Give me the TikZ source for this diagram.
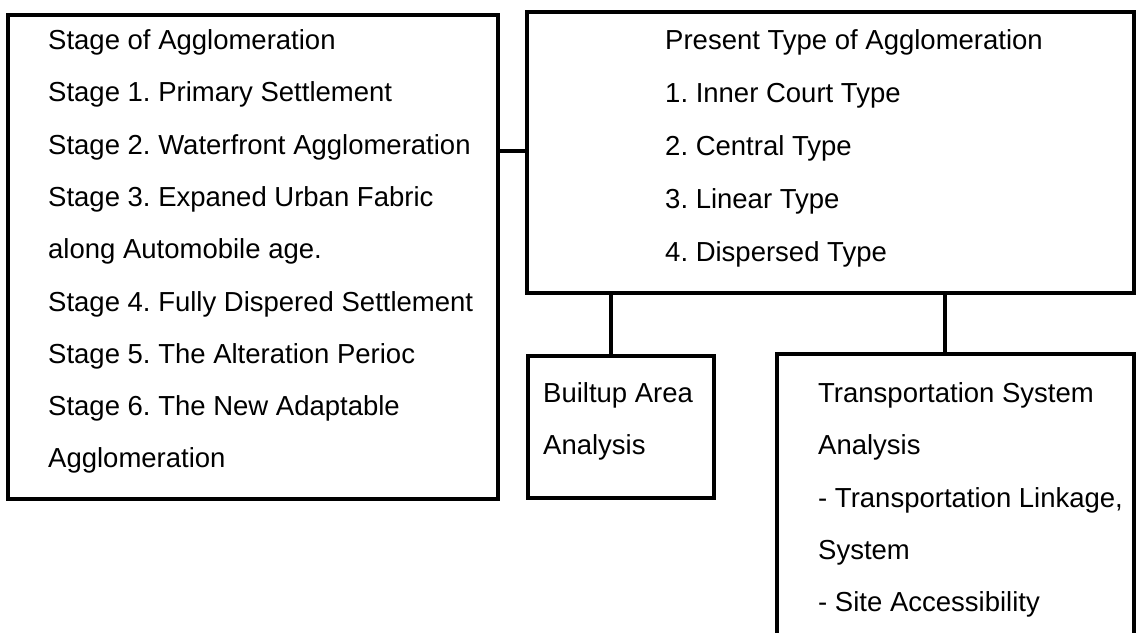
\documentclass[tikz,border=0pt]{standalone}
\usepackage{fontspec}
\setmainfont{Liberation Sans}
\frenchspacing
\tikzset{
  box/.style={draw, rectangle, line width=3.4pt, inner sep=0pt, outer sep=0pt},
  txt/.style={anchor=west, inner sep=0pt, text height=0.72em, text depth=0pt,
              font=\fontsize{27.5}{32}\selectfont},
  link/.style={line width=3.2pt}
}
\begin{document}
\begin{tikzpicture}[x=1pt, y=-1pt]
\clip (0,0) rectangle (1139,632);
\fill[white] (0,0) rectangle (1139,632);
% boxes
\node[box, minimum width=490pt, minimum height=484pt] (stages) at (253,257) {};
\node[box, minimum width=607pt, minimum height=281pt] (present) at (830.5,152.5) {};
\node[box, minimum width=186pt, minimum height=142pt] (builtup) at (621,427) {};
\node[box, minimum width=357pt, minimum height=326pt] (transport) at (955.5,517) {};
% left texts
\node[txt] (s0) at (48,46)  {Stage of Agglomeration};
\node[txt] (s1) at (48,98)  {Stage 1. Primary Settlement};
\node[txt] (s2) at (48,151) {Stage 2. Waterfront Agglomeration};
\node[txt] (s3) at (48,203) {Stage 3. Expaned Urban Fabric};
\node[txt] (s4) at (48,255) {along Automobile age.};
\node[txt] (s5) at (48,308) {Stage 4. Fully Dispered Settlement};
\node[txt] (s6) at (48,360) {Stage 5. The Alteration Perioc};
\node[txt] (s7) at (48,412) {Stage 6. The New Adaptable};
\node[txt] (s8) at (48,464) {Agglomeration};
% present texts
\node[txt] (p0) at (665,46)  {Present Type of Agglomeration};
\node[txt] (p1) at (665,99)  {1. Inner Court Type};
\node[txt] (p2) at (665,152) {2. Central Type};
\node[txt] (p3) at (665,205) {3. Linear Type};
\node[txt] (p4) at (665,258) {4. Dispersed Type};
% builtup texts
\node[txt] (b0) at (543,399) {Builtup Area};
\node[txt] (b1) at (543,451) {Analysis};
% transport texts
\node[txt] (t0) at (818,399) {Transportation System};
\node[txt] (t1) at (818,451) {Analysis};
\node[txt] (t2) at (818,504) {- Transportation Linkage,};
\node[txt] (t3) at (818,556) {System};
\node[txt] (t4) at (818,608) {- Site Accessibility};
% connectors
\coordinate (h1) at (0,151);
\coordinate (v1) at (611,0);
\coordinate (v2) at (945,0);
\draw[link] (stages.east |- h1) -- (present.west |- h1);
\draw[link] (present.south -| v1) -- (builtup.north -| v1);
\draw[link] (present.south -| v2) -- (transport.north -| v2);
\end{tikzpicture}
\end{document}
